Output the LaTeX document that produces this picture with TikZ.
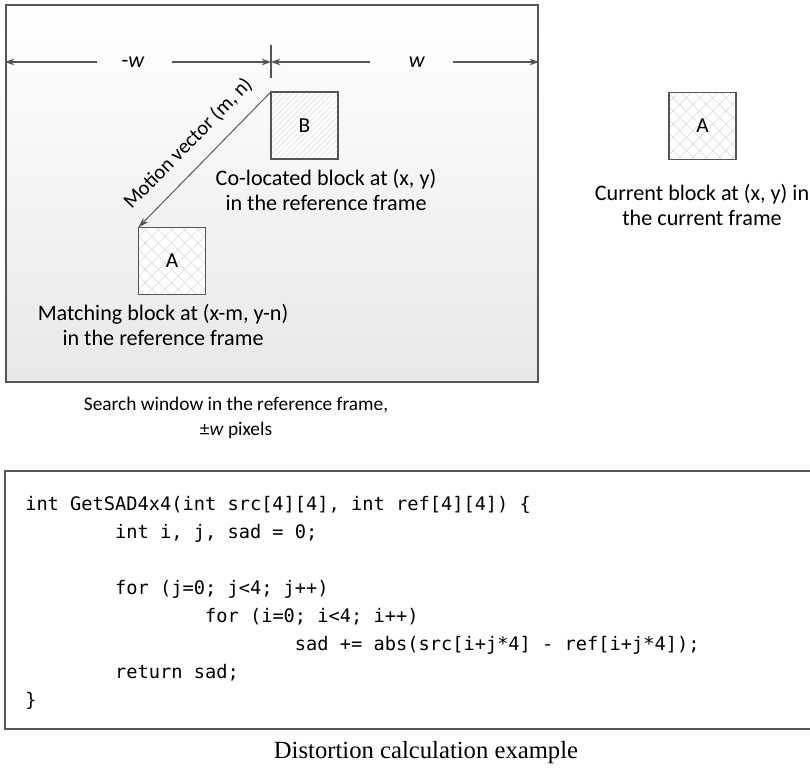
\documentclass[tikz,border=0pt]{standalone}
\usepackage{fontspec}
\setmainfont{Carlito}
\newfontfamily\codefont{DejaVu Sans Mono}
\newfontfamily\capfont{Liberation Serif}
\usetikzlibrary{arrows.meta,positioning,patterns.meta}
\definecolor{edge}{RGB}{85,85,85}
\definecolor{hatch}{RGB}{215,215,215}
\newcommand\ind{\phantom{00000000}}

\begin{document}
\begin{tikzpicture}[x=0.75pt,y=-0.75pt,
    block/.style={draw=edge,line width=1.2pt,minimum size=50pt,inner sep=0pt,
      preaction={fill=white},font=\fontsize{16}{18}\selectfont},
    dimline/.style={edge,line width=0.9pt,-{Stealth[length=7pt,width=5pt]}},
    label/.style={align=center,font=\fontsize{16.6}{19}\selectfont}]
        \useasboundingbox (0,0) rectangle (810,771);
        % search window
        \node[draw=edge,line width=1.4pt,top color=white,bottom color=black!9,
          anchor=north west,minimum width=399pt,minimum height=282.75pt,inner sep=0pt] (win) at (5,4) {};
        \coordinate (tick) at (271,62);
        \coordinate (lw1) at (97,62);
        \coordinate (lw2) at (172,62);
        \coordinate (rw1) at (370,62);
        \coordinate (rw2) at (453,62);
        \draw[edge,line width=0.9pt] (271,45) -- (271,78);
        \draw[dimline] (lw1) -- (win.west |- tick);
        \draw[dimline] (lw2) -- (tick);
        \draw[dimline] (rw1) -- (tick);
        \draw[dimline] (rw2) -- (win.east |- tick);
        \node[font=\fontsize{16.6}{18}\selectfont] (mw) at (133,62) {-\textit{w}};
        \node[font=\fontsize{16.6}{18}\selectfont] (pw) at (417,62) {\textit{w}};
        % blocks
        \node[block,pattern={Lines[angle=45,distance=3pt,line width=0.4pt]},pattern color=hatch] (B) at (304.5,125.5) {B};
        \node[block,pattern={Hatch[angle=45,distance=7pt,line width=0.4pt]},pattern color=hatch] (A) at (172,261) {A};
        \node[block,pattern={Hatch[angle=45,distance=7pt,line width=0.4pt]},pattern color=hatch] (cur) at (702.5,126) {A};
        \draw[edge,line width=0.7pt,-{Stealth[length=8pt,width=5pt]}] (B.north west) --
          node[sloped,above=7pt,pos=0.5,text=black,font=\fontsize{15.5}{17}\selectfont] (mv) {Motion vector (m, n)} (A.north west);
        \node[label] (coloc) at (326,190) {Co-located block at (x, y)\\in the reference frame};
        \node[label] (matchlbl) at (163,325) {Matching block at (x-m, y-n)\\in the reference frame};
        \node[label] (curlbl) at (702,205) {Current block at (x, y) in\\the current frame};
        \node[align=center,font=\fontsize{14.5}{19}\selectfont] (winlbl) at (236,418) {Search window in the reference frame,\\±\textit{w} pixels};
        % code
        \draw[edge,line width=1.4pt] (815,471) -- (5,471) -- (5,729) -- (815,729);
        \node[anchor=north west,inner sep=0pt,align=left,font=\codefont\fontsize{14}{21}\selectfont] (code) at (25,496) {%
          int GetSAD4x4(int src[4][4], int ref[4][4]) \{\\
          \ind int i, j, sad = 0;\\
          \mbox{}\\
          \ind for (j=0; j<4; j++)\\
          \ind\ind for (i=0; i<4; i++)\\
          \ind\ind\ind sad += abs(src[i+j*4] - ref[i+j*4]);\\
          \ind return sad;\\
          \}};
        \node[font=\capfont\fontsize{18.5}{21}\selectfont] (cap) at (426,753) {Distortion calculation example};
\end{tikzpicture}
\end{document}
